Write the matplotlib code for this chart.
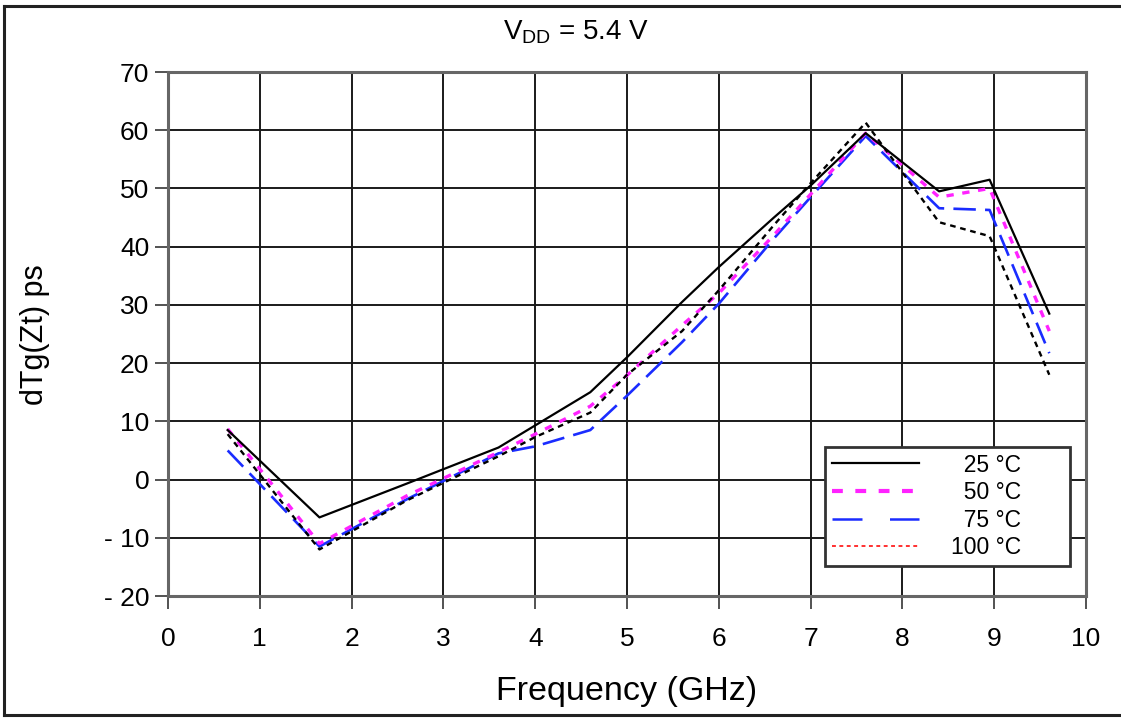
import matplotlib
matplotlib.use("Agg")
import matplotlib.pyplot as plt
from matplotlib.lines import Line2D

plt.rcParams['font.family'] = ['Liberation Sans', 'DejaVu Sans']
plt.rcParams['mathtext.fontset'] = 'custom'
plt.rcParams['mathtext.rm'] = 'Liberation Sans'

# Frequency sample points (GHz)
freq = [0.65, 1.65, 2.6, 3.6, 4.0, 4.6, 5.0, 5.6, 6.0, 6.6, 7.0, 7.6, 8.4, 8.95, 9.6]

# Group delay variation dTg(Zt) in ps, per temperature
dtg_25 = [8.5, -6.5, -0.7, 5.5, 9.3, 15.0, 21.0, 30.5, 36.5, 45.0, 50.5, 59.5, 49.5, 51.5, 28.5]
dtg_50 = [8.7, -11.0, -2.8, 4.7, 7.8, 12.6, 17.9, 26.5, 32.0, 42.0, 49.0, 59.5, 48.5, 50.0, 25.5]
dtg_75 = [5.0, -11.5, -3.4, 4.5, 5.7, 8.5, 14.4, 23.6, 30.2, 41.4, 48.5, 59.0, 46.6, 46.3, 21.7]
dtg_100 = [7.8, -12.0, -3.6, 4.0, 7.3, 11.5, 18.0, 25.5, 32.5, 43.7, 50.9, 61.3, 44.2, 41.8, 18.0]

legend_labels = ["  25 °C", "  50 °C", "  75 °C", "100 °C"]
x_ticks = list(range(0, 11))
y_ticks = list(range(-20, 71, 10))
y_tick_labels = ["- 20", "- 10", "0", "10", "20", "30", "40", "50", "60", "70"]

W, H = 1121, 719
fig = plt.figure(figsize=(W / 100, H / 100), dpi=100)
ax = fig.add_axes([168 / W, 1 - 596 / H, (1086 - 168) / W, (596 - 72) / H])

# outer frame around the whole figure
for xs, ys in [([4, W], [6, 6]), ([4, W], [715, 715]), ([4, 4], [6, 715])]:
    fig.add_artist(Line2D([x / W for x in xs], [1 - y / H for y in ys],
                          color='#222222', lw=2.2, transform=fig.transFigure))

ax.plot(freq, dtg_25, color='black', lw=1.6, zorder=5)
l50, = ax.plot(freq, dtg_50, color='#ff22ff', lw=2.4, zorder=4)
l50.set_dashes([2.2, 2.6])
l75, = ax.plot(freq, dtg_75, color='#1a2cff', lw=1.9, zorder=3)
l75.set_dashes([8.5, 3.5])
l100, = ax.plot(freq, dtg_100, color='black', lw=1.7, zorder=4)
l100.set_dashes([2.4, 2.0])

ax.set_xlim(0, 10)
ax.set_ylim(-20, 70)
ax.set_xticks(x_ticks)
ax.set_yticks(y_ticks)
ax.set_yticklabels(y_tick_labels)
ax.grid(True, color='#1a1a1a', lw=1.4)
ax.set_axisbelow(True)
for sp in ax.spines.values():
    sp.set_color('#666666')
    sp.set_linewidth(2.2)
ax.tick_params(axis='both', direction='out', length=9.5, width=1.3, color='#444444',
               labelsize=19)
ax.tick_params(axis='x', pad=13)
ax.tick_params(axis='y', pad=4)

ax.set_xlabel("Frequency (GHz)", fontsize=24.5, labelpad=18)
ax.set_ylabel("dTg(Zt) ps", fontsize=22, labelpad=0)
ax.yaxis.set_label_coords(-(168 - 50) / (1086 - 168), (596 - 335) / (596 - 72))
fig.text(576 / W, 1 - 32 / H, r"V$_{\mathregular{DD}}$ = 5.4 V", fontsize=20,
         ha='center', va='center')

# legend entries
h25 = Line2D([], [], color='black', lw=1.6)
h50 = Line2D([], [], color='#ff22ff', lw=3.0)
h50.set_dashes([2.6, 3.0])
h75 = Line2D([], [], color='#1a2cff', lw=1.8)
h75.set_dashes([12, 11])
h100 = Line2D([], [], color='#ff3030', lw=1.4)
h100.set_dashes([2.0, 1.8])

leg = ax.legend([h25, h50, h75, h100], legend_labels, loc='lower left',
                bbox_to_anchor=(0.716, 0.057, 0.267, 0.231), mode='expand',
                fontsize=16.5, handlelength=3.8, handletextpad=1.4, labelspacing=0.2,
                borderpad=0.3, borderaxespad=0, fancybox=False, framealpha=1,
                edgecolor='#333333')
leg.get_frame().set_linewidth(2.0)
leg.set_zorder(10)

fig.savefig("out.png", dpi=100)
